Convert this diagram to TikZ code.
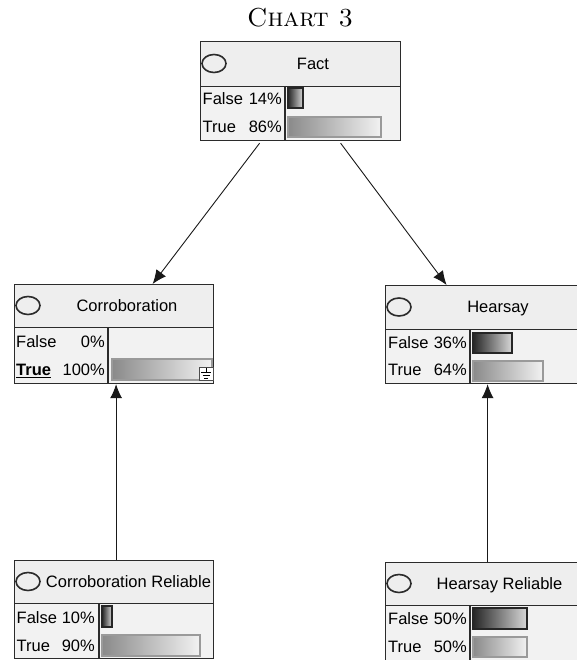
\documentclass[tikz,border=0pt]{standalone}
\usepackage{fontspec}
\setsansfont{Liberation Sans}
\usetikzlibrary{arrows.meta,calc}
\definecolor{bdr}{HTML}{2B2B2B}
\definecolor{hdrfill}{HTML}{EEEEEE}
\definecolor{bodyfill}{HTML}{F2F2F2}
\definecolor{fdark}{HTML}{262626}
\definecolor{flight}{HTML}{D8D8D8}
\definecolor{tdark}{HTML}{8A8A8A}
\definecolor{tlight}{HTML}{F2F2F2}
\definecolor{tbdr}{HTML}{9A9A9A}
\newcommand{\netbox}[9]{%
  \node[boxpart, fill=hdrfill, minimum width={(#4-#2)*1pt}, minimum height={(#5-#3)*1pt}] (#1) at (#2,#3) {};
  \node[boxpart, fill=bodyfill, minimum width={(#4-#2)*1pt}, minimum height={(#6-#5)*1pt}] (#1b) at (#2,#5) {};
  \draw[boxline] (#7,#5) -- (#7,#6);
  \draw[ovalline] ({#2+14},{(#3+#5)/2}) ellipse [x radius=12, y radius=9];
  \node[lbl] (#1t) at (#9,{(#3+#5)/2}) {#8};
}
\newcommand{\fbar}[4]{%
  \shade[left color=fdark, right color=flight] (#1,#2) rectangle (#3,#4);
  \draw[draw=fdark, line width=1.1pt] (#1,#2) rectangle (#3,#4);
}
\newcommand{\tbar}[4]{%
  \shade[left color=tdark, right color=tlight] (#1,#2) rectangle (#3,#4);
  \draw[draw=tbdr, line width=1.1pt] (#1,#2) rectangle (#3,#4);
}
\tikzset{
  boxpart/.style={draw=bdr, line width=1.2pt, inner sep=0, anchor=north west},
  boxline/.style={draw=bdr, line width=1.2pt},
  ovalline/.style={draw=bdr, line width=1.6pt},
  lbl/.style={font=\sffamily\fontsize{16.5}{16.5}\selectfont, inner sep=0, text height=11.5pt, text depth=0pt, text=black},
  stname/.style={lbl, anchor=west},
  pct/.style={lbl, anchor=east},
  arr/.style={-{Latex[length=14pt,width=12pt]}, line width=0.9pt, draw=black!90}
}
\begin{document}
\begin{tikzpicture}[x=1pt,y=-1pt]
\useasboundingbox (0,0) rectangle (576,660);
\node[font=\fontsize{26}{26}\selectfont, inner sep=0, text=black] (title) at (300,18) {\textsc{Chart 3}};

% Fact
\netbox{fact}{200}{41}{400}{86}{140}{285}{Fact}{313}
\node[stname] (factF) at (202.5,99) {False};
\node[pct] (factFp) at (282,99) {14\%};
\node[stname] (factT) at (202.5,127) {True};
\node[pct] (factTp) at (282,127) {86\%};
\fbar{288}{88}{303}{108}
\tbar{288}{117}{381}{137}

% Corroboration
\netbox{corr}{14}{284}{213}{327}{383}{108}{Corroboration}{127}
\node[stname] (corrF) at (16,342) {False};
\node[pct] (corrFp) at (105,342) {0\%};
\node[stname] (corrT) at (16,370) {\underline{\textbf{True}}};
\node[pct] (corrTp) at (105,370) {100\%};
\tbar{112}{359}{212}{380}
\draw[draw=black!70, fill=white, line width=0.8pt] (199,367) rectangle (213,380);
\draw[line width=0.8pt] (206,368) -- (206,372);
\draw[line width=0.8pt] (201,372) -- (211,372);
\draw[line width=0.8pt] (202.5,375) -- (209.5,375);
\draw[line width=0.8pt] (204,378) -- (208,378);

% Hearsay
\netbox{hear}{385}{285}{580}{329}{383}{470}{Hearsay}{498}
\node[stname] (hearF) at (388,343) {False};
\node[pct] (hearFp) at (467,343) {36\%};
\node[stname] (hearT) at (388,370) {True};
\node[pct] (hearTp) at (467,370) {64\%};
\fbar{473}{333}{512}{353}
\tbar{473}{361}{543}{381}

% Corroboration Reliable
\netbox{crel}{14}{560}{213}{603}{658}{99}{Corroboration Reliable}{128.5}
\node[stname] (crelF) at (16.5,618) {False};
\node[pct] (crelFp) at (95,618) {10\%};
\node[stname] (crelT) at (16.5,646) {True};
\node[pct] (crelTp) at (95,646) {90\%};
\fbar{102}{606}{112}{627}
\tbar{102}{635}{200}{656}

% Hearsay Reliable
\netbox{hrel}{385}{562}{580}{605}{664}{470}{Hearsay Reliable}{499.5}
\node[stname] (hrelF) at (388,619) {False};
\node[pct] (hrelFp) at (467,619) {50\%};
\node[stname] (hrelT) at (388,647) {True};
\node[pct] (hrelTp) at (467,647) {50\%};
\fbar{473}{608}{527}{629}
\tbar{473}{637}{527}{657}

% connectors
\draw[arr] ($(factb.south)+(-41,2)$) -- ($(corr.north)+(38.5,0)$);
\draw[arr] ($(factb.south)+(40,2)$) -- ($(hear.north)+(-36.5,0)$);
\draw[arr] ($(crel.north)+(2,0)$) -- ($(corrb.south)+(2,0)$);
\draw[arr] ($(hrel.north)+(4.5,0)$) -- ($(hearb.south)+(4.5,0)$);
\end{tikzpicture}
\end{document}
